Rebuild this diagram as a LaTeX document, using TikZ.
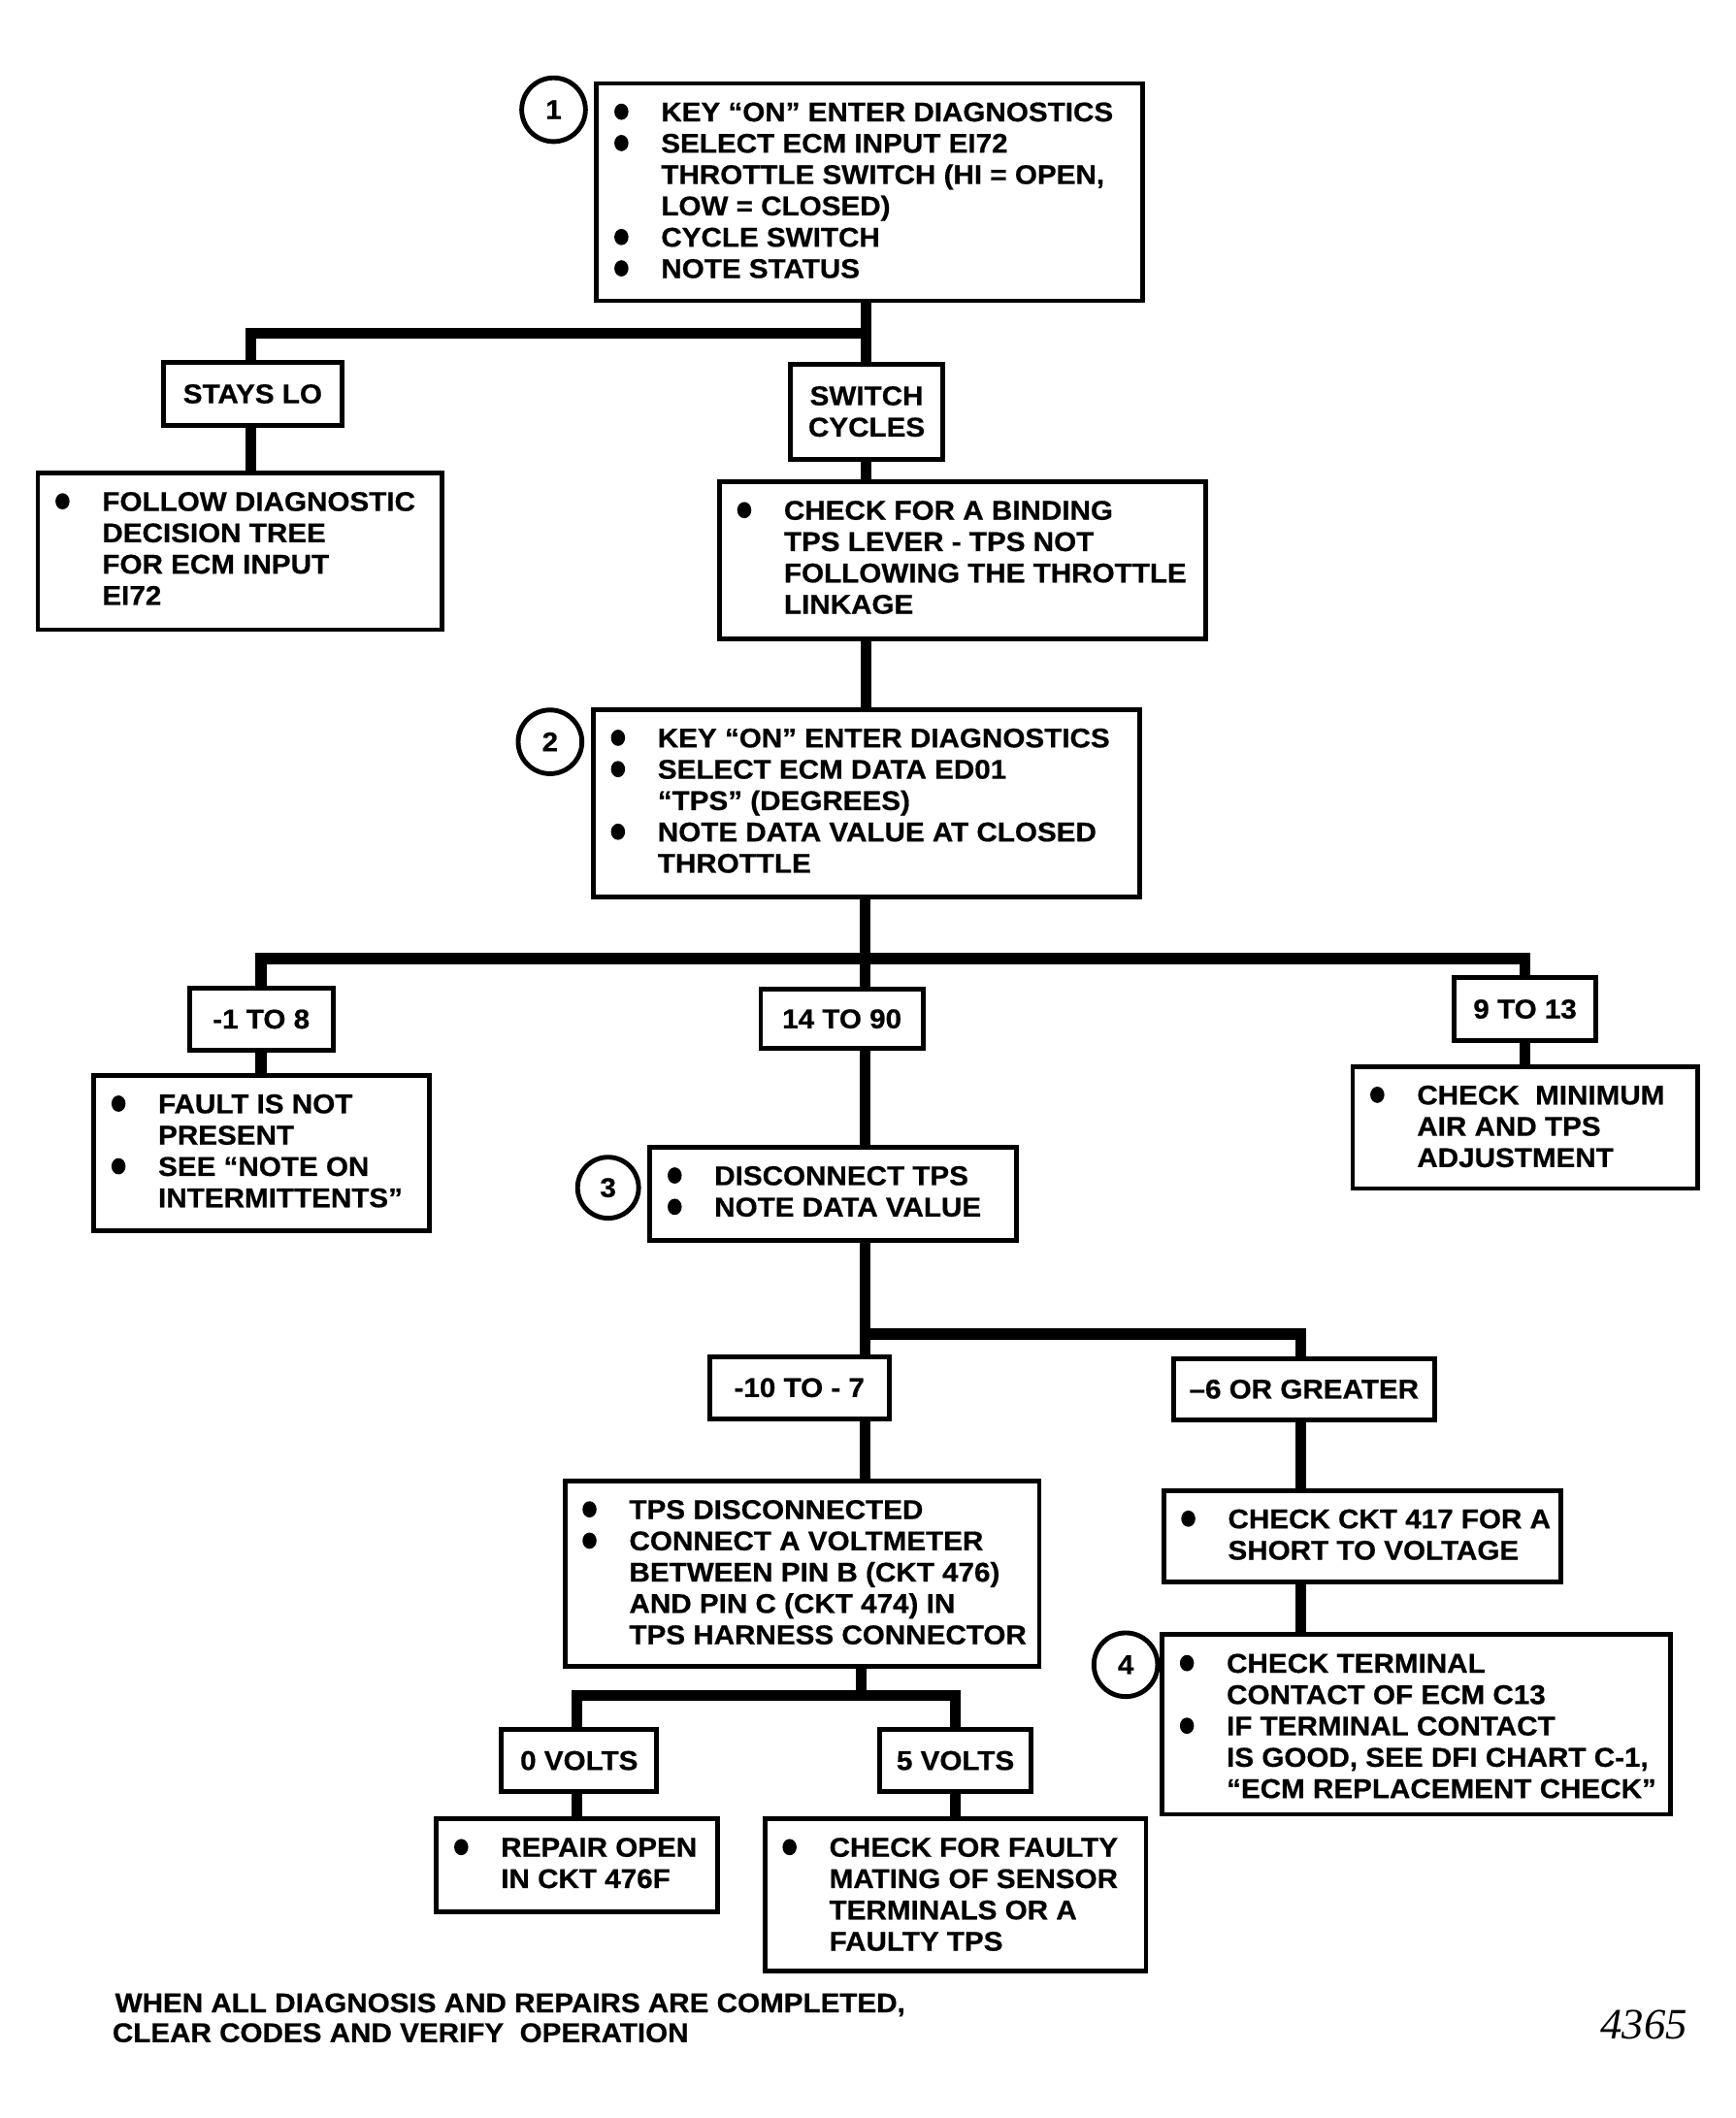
\documentclass[tikz,border=0pt]{standalone}
\usepackage{fontspec}
\setmainfont{Liberation Sans}[FakeStretch=1.06, BoldFeatures={FakeBold=0.6}]
\newfontfamily\numfont{Liberation Serif}
\newcommand\bulletdot{\tikz[baseline=0pt,x=1bp,y=1bp]\fill (5.2,7.1) ellipse [x radius=5.2, y radius=6];}
\newcommand\bi{\hspace*{13bp}\makebox[34.5bp][l]{\bulletdot}}
\newcommand\ci{\hspace*{47.5bp}}
\newcommand\boxcontent[3]{\parbox[c][#2bp][t]{#1bp}{\raggedright\rule{0pt}{28bp}#3}}
\tikzset{
  txt/.style={font=\fontsize{20bp}{23.1bp}\selectfont\bfseries},
  box/.style={txt, draw, line width=3.5bp, inner sep=0pt, outer sep=0pt, anchor=north west},
  lab/.style={txt, draw, line width=3.5bp, inner sep=0pt, outer sep=0pt, align=center},
  circ/.style={txt, circle, draw, line width=3.5bp, inner sep=0pt, outer sep=0pt, minimum size=47bp},
  vline/.style={line width=8bp, line cap=butt},
  bus/.style={line width=8bp, line cap=butt},
}
\begin{document}
\begin{tikzpicture}[x=1bp,y=-1bp]
\fill[white] (0,0) rectangle (1280,1562);
\useasboundingbox (0,0) rectangle (1280,1562);

% nodes
\node[box] (box1) at (440,61.5) {\boxcontent{402.6}{160.3}{\bi KEY “ON” ENTER DIAGNOSTICS\\
\bi SELECT ECM INPUT EI72\\
\ci THROTTLE SWITCH (HI = OPEN,\\
\ci LOW = CLOSED)\\
\bi CYCLE SWITCH\\
\bi NOTE STATUS}};
\node[circ] (n1) at (408.2,80.9) {1};

\node[lab, minimum width=131.5bp, minimum height=47bp] (stays) at (186.3,290.5) {STAYS LO};
\node[lab, minimum width=112bp, minimum height=70bp] (sc) at (639,303.5) {SWITCH\\CYCLES};

\node[box] (follow) at (27.9,348.8) {\boxcontent{298}{115.6}{\bi FOLLOW DIAGNOSTIC\\
\ci DECISION TREE\\
\ci FOR ECM INPUT\\
\ci EI72}};

\node[box] (check) at (530.6,355.3) {\boxcontent{358.7}{115.6}{\bi CHECK FOR A BINDING\\
\ci TPS LEVER - TPS NOT\\
\ci FOLLOWING THE THROTTLE\\
\ci LINKAGE}};

\node[box] (box2) at (437.5,523.2) {\boxcontent{402.6}{138.5}{\bi KEY “ON” ENTER DIAGNOSTICS\\
\bi SELECT ECM DATA ED01\\
\ci “TPS” (DEGREES)\\
\bi NOTE DATA VALUE AT CLOSED\\
\ci THROTTLE}};
\node[circ] (n2) at (405.6,547.1) {2};

\node[lab, minimum width=106bp, minimum height=46bp] (m18) at (192.6,751.6) {-1 TO 8};
\node[lab, minimum width=119.6bp, minimum height=44bp] (c1490) at (620.8,751.4) {14 TO 90};
\node[lab, minimum width=104bp, minimum height=46.5bp] (n913) at (1124.5,744.2) {9 TO 13};

\node[box] (fault) at (69.2,793) {\boxcontent{247.5}{114.5}{\bi FAULT IS NOT\\
\ci PRESENT\\
\bi SEE “NOTE ON\\
\ci INTERMITTENTS”}};

\node[box] (chkmin) at (997.4,786.5) {\boxcontent{254.6}{90}{\bi CHECK\ \ MINIMUM\\
\ci AIR AND TPS\\
\ci ADJUSTMENT}};

\node[box] (box3) at (479.3,846) {\boxcontent{270}{68.8}{\bi DISCONNECT TPS\\
\bi NOTE DATA VALUE}};
\node[circ, minimum size=45bp] (n3) at (448.4,875.9) {3};

\node[lab, minimum width=132.5bp, minimum height=46bp] (m107) at (589.4,1023.4) {-10 TO - 7};
\node[lab, minimum width=192.3bp, minimum height=45bp] (g6) at (961.5,1024.5) {–6 OR GREATER};

\node[box] (tps) at (416.5,1092.2) {\boxcontent{349.8}{136.5}{\bi TPS DISCONNECTED\\
\bi CONNECT A VOLTMETER\\
\ci BETWEEN PIN B (CKT 476)\\
\ci AND PIN C (CKT 474) IN\\
\ci TPS HARNESS CONNECTOR}};

\node[box] (ckt) at (858,1099.1) {\boxcontent{293}{67.8}{\bi CHECK CKT 417 FOR A\\
\ci SHORT TO VOLTAGE}};

\node[box] (box4) at (857,1205.6) {\boxcontent{374.8}{132.4}{\bi CHECK TERMINAL\\
\ci CONTACT OF ECM C13\\
\bi IF TERMINAL CONTACT\\
\ci IS GOOD, SEE DFI CHART C-1,\\
\ci “ECM REPLACEMENT CHECK”}};
\node[circ] (n4) at (830.1,1227.7) {4};

\node[lab, minimum width=114.6bp, minimum height=45.8bp] (v0) at (427,1298.4) {0 VOLTS};
\node[lab, minimum width=111.6bp, minimum height=45.8bp] (v5) at (704.5,1298.4) {5 VOLTS};

\node[box] (repair) at (321.9,1341.3) {\boxcontent{207.3}{68.8}{\bi REPAIR OPEN\\
\ci IN CKT 476F}};

\node[box] (faulty) at (564,1341.3) {\boxcontent{281}{112.3}{\bi CHECK FOR FAULTY\\
\ci MATING OF SENSOR\\
\ci TERMINALS OR A\\
\ci FAULTY TPS}};

\node[txt, anchor=base west, inner sep=0pt] (foot1) at (84.7,1484) {WHEN ALL DIAGNOSIS AND REPAIRS ARE COMPLETED,};
\node[txt, anchor=base west, inner sep=0pt] (foot2) at (82.7,1506) {CLEAR CODES AND VERIFY\ \ OPERATION};
\node[anchor=base west, inner sep=0pt, font=\numfont\itshape\fontsize{32bp}{32bp}\selectfont] (fig) at (1180,1503.5) {4365};

% junction coordinates
\coordinate (j1) at (638.5,246);
\coordinate (j1l) at (185,246);
\coordinate (j2) at (638,706.9);
\coordinate (j2l) at (192.5,706.9);
\coordinate (j2r) at (1124.5,706.9);
\coordinate (j3) at (638,983.8);
\coordinate (j3r) at (959,983.8);
\coordinate (j4) at (635,1250.6);
\coordinate (j4l) at (425.5,1250.6);
\coordinate (j4r) at (704.5,1250.6);

% connectors
\draw[vline] (box1.south -| j1) -- (sc.north -| j1);
\draw[bus] ([xshift=-4bp]j1l) -- ([xshift=4bp]j1);
\draw[vline] (j1l) -- (stays.north -| j1l);
\draw[vline] (stays.south -| j1l) -- (follow.north -| j1l);
\draw[vline] (sc.south -| j1) -- (check.north -| j1);
\draw[vline] (check.south -| j1) -- (box2.north -| j1);

\draw[vline] (box2.south -| j2) -- (c1490.north -| j2);
\draw[bus] ([xshift=-4bp]j2l) -- ([xshift=4bp]j2r);
\draw[vline] (j2l) -- (m18.north -| j2l);
\draw[vline] (m18.south -| j2l) -- (fault.north -| j2l);
\draw[vline] (j2r) -- (n913.north -| j2r);
\draw[vline] (n913.south -| j2r) -- (chkmin.north -| j2r);
\draw[vline] (c1490.south -| j2) -- (box3.north -| j2);

\draw[vline] (box3.south -| j3) -- (m107.north -| j3);
\draw[bus] ([xshift=-4bp]j3) -- ([xshift=4bp]j3r);
\draw[vline] (j3r) -- (g6.north -| j3r);
\draw[vline] (g6.south -| j3r) -- (ckt.north -| j3r);
\draw[vline] (ckt.south -| j3r) -- (box4.north -| j3r);
\draw[vline] (m107.south -| j3) -- (tps.north -| j3);

\draw[vline] (tps.south -| j4) -- (j4);
\draw[bus] ([xshift=-4bp]j4l) -- ([xshift=4bp]j4r);
\draw[vline] (j4l) -- (v0.north -| j4l);
\draw[vline] (v0.south -| j4l) -- (repair.north -| j4l);
\draw[vline] (j4r) -- (v5.north -| j4r);
\draw[vline] (v5.south -| j4r) -- (faulty.north -| j4r);
\end{tikzpicture}
\end{document}
